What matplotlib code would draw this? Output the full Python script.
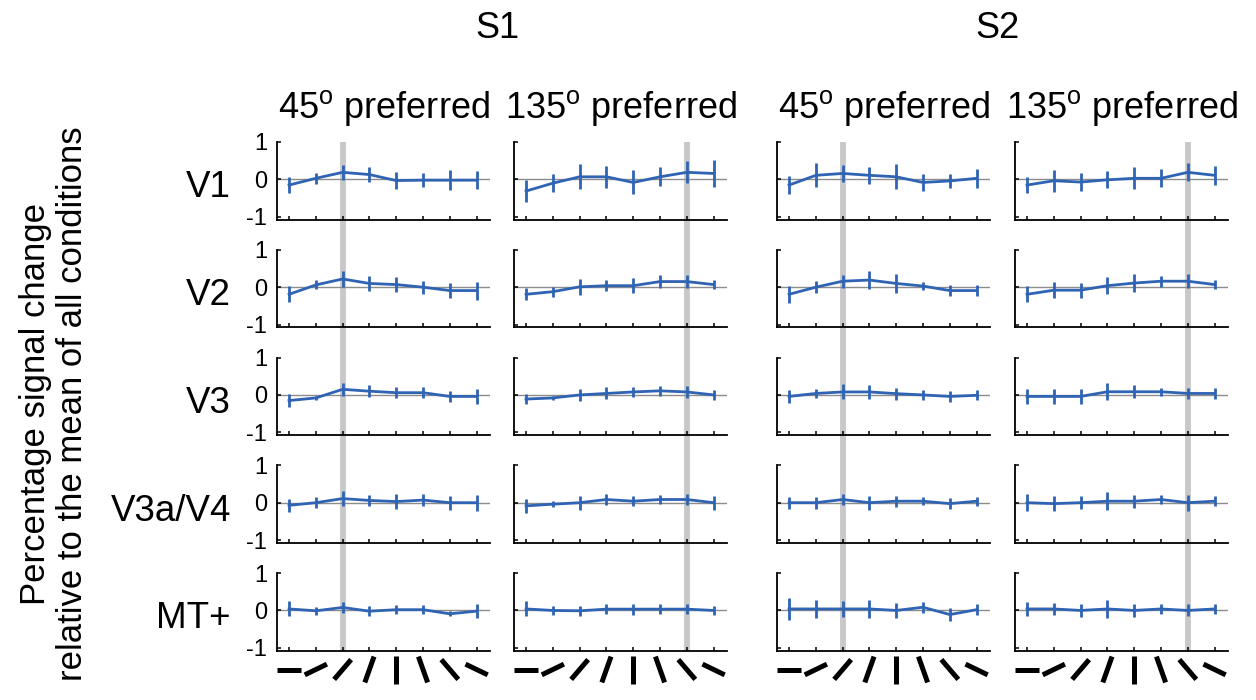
import numpy as np
import matplotlib
matplotlib.use('Agg')
import matplotlib.pyplot as plt
from matplotlib import transforms
from matplotlib.lines import Line2D

plt.rcParams['font.family'] = ['Liberation Sans', 'DejaVu Sans']
plt.rcParams['mathtext.fontset'] = 'custom'
plt.rcParams['mathtext.rm'] = 'Liberation Sans'
plt.rcParams['axes.unicode_minus'] = False

# --- data ---
subjects = ['S1', 'S2']
conditions = [r'45$^{\mathrm{o}}$ preferred', r'135$^{\mathrm{o}}$ preferred',
              r'45$^{\mathrm{o}}$ preferred', r'135$^{\mathrm{o}}$ preferred']
areas = ['V1', 'V2', 'V3', 'V3a/V4', 'MT+']
orientations = [0, 22.5, 45, 67.5, 90, 112.5, 135, 157.5]
preferred = [45, 135, 45, 135]
yticks = [-1, 0, 1]

s1_45_mean = [
    [-0.15, 0.03, 0.19, 0.13, -0.03, -0.02, -0.02, -0.02],
    [-0.19, 0.06, 0.22, 0.10, 0.07, 0.00, -0.09, -0.09],
    [-0.15, -0.08, 0.15, 0.10, 0.06, 0.06, -0.04, -0.04],
    [-0.07, 0.00, 0.11, 0.06, 0.03, 0.07, 0.00, 0.00],
    [0.04, -0.01, 0.08, -0.02, 0.02, 0.02, -0.09, -0.02],
]
s1_45_err = [
    [0.21, 0.15, 0.20, 0.20, 0.23, 0.19, 0.26, 0.24],
    [0.21, 0.12, 0.22, 0.19, 0.19, 0.17, 0.20, 0.24],
    [0.18, 0.06, 0.18, 0.16, 0.15, 0.15, 0.15, 0.19],
    [0.18, 0.14, 0.19, 0.14, 0.19, 0.15, 0.19, 0.21],
    [0.20, 0.11, 0.15, 0.13, 0.12, 0.12, 0.07, 0.19],
]
s1_135_mean = [
    [-0.31, -0.10, 0.07, 0.07, -0.08, 0.07, 0.19, 0.16],
    [-0.19, -0.12, 0.01, 0.04, 0.04, 0.15, 0.15, 0.07],
    [-0.11, -0.08, 0.00, 0.04, 0.08, 0.11, 0.08, 0.00],
    [-0.085, -0.04, 0.00, 0.085, 0.04, 0.085, 0.085, 0.00],
    [0.04, 0.00, -0.01, 0.035, 0.035, 0.035, 0.035, 0.00],
]
s1_135_err = [
    [0.29, 0.24, 0.33, 0.29, 0.32, 0.25, 0.29, 0.37],
    [0.16, 0.13, 0.22, 0.15, 0.20, 0.17, 0.17, 0.13],
    [0.14, 0.05, 0.17, 0.16, 0.14, 0.14, 0.15, 0.13],
    [0.18, 0.085, 0.19, 0.14, 0.14, 0.13, 0.16, 0.19],
    [0.20, 0.13, 0.14, 0.14, 0.15, 0.13, 0.14, 0.13],
]
s2_45_mean = [
    [-0.15, 0.11, 0.16, 0.11, 0.07, -0.08, -0.04, 0.03],
    [-0.19, 0.00, 0.16, 0.19, 0.10, 0.03, -0.09, -0.09],
    [-0.04, 0.04, 0.08, 0.08, 0.035, 0.00, -0.04, -0.01],
    [0.00, 0.00, 0.085, 0.00, 0.04, 0.04, -0.025, 0.04],
    [0.04, 0.04, 0.04, 0.04, 0.00, 0.085, -0.11, 0.02],
]
s2_45_err = [
    [0.25, 0.32, 0.23, 0.23, 0.33, 0.22, 0.19, 0.26],
    [0.23, 0.16, 0.17, 0.23, 0.25, 0.11, 0.15, 0.15],
    [0.18, 0.12, 0.20, 0.19, 0.16, 0.13, 0.15, 0.13],
    [0.16, 0.16, 0.15, 0.19, 0.15, 0.11, 0.14, 0.12],
    [0.29, 0.23, 0.22, 0.25, 0.21, 0.15, 0.18, 0.15],
]
s2_135_mean = [
    [-0.15, -0.035, -0.07, -0.01, 0.03, 0.03, 0.19, 0.11],
    [-0.19, -0.08, -0.08, 0.04, 0.11, 0.16, 0.16, 0.07],
    [-0.04, -0.04, -0.04, 0.085, 0.085, 0.085, 0.04, 0.04],
    [0.00, -0.025, 0.00, 0.04, 0.04, 0.085, 0.00, 0.04],
    [0.04, 0.04, 0.00, 0.04, 0.00, 0.04, 0.00, 0.04],
]
s2_135_err = [
    [0.22, 0.30, 0.24, 0.23, 0.29, 0.24, 0.24, 0.25],
    [0.21, 0.21, 0.20, 0.23, 0.23, 0.15, 0.18, 0.13],
    [0.21, 0.20, 0.19, 0.23, 0.17, 0.10, 0.15, 0.14],
    [0.23, 0.20, 0.18, 0.24, 0.17, 0.12, 0.21, 0.13],
    [0.19, 0.17, 0.17, 0.23, 0.18, 0.13, 0.16, 0.14],
]

means = [s1_45_mean, s1_135_mean, s2_45_mean, s2_135_mean]
errs = [s1_45_err, s1_135_err, s2_45_err, s2_135_err]

# --- layout (pixels of a 1256x700 figure) ---
W, H = 1256, 700
col_left = [277, 514, 777, 1015]
col_w = 213
row_top0, row_step, row_h = 142, 107.75, 77.5
blue = '#2f63b3'

fig = plt.figure(figsize=(W / 100, H / 100), dpi=100)
x = np.arange(1, len(orientations) + 1)
xlim = (0.55, 8.5)

def frac(left, top, w, h):
    return [left / W, 1 - (top + h) / H, w / W, h / H]

bottom_axes = []
for c in range(4):
    # grey band marking the preferred orientation, across all rows
    band_h = 4 * row_step + row_h
    bg = fig.add_axes(frac(col_left[c], row_top0, col_w, band_h), zorder=0)
    bg.set_xlim(*xlim)
    bg.axvline(orientations.index(preferred[c]) + 1, color='#c8c8c8', lw=4.2)
    bg.axis('off')

    for r in range(len(areas)):
        ax = fig.add_axes(frac(col_left[c], row_top0 + r * row_step, col_w, row_h), zorder=1)
        ax.patch.set_visible(False)
        ax.axhline(0, color='#8c8c8c', lw=1.0, zorder=1)
        ax.errorbar(x, means[c][r], yerr=errs[c][r], color=blue, lw=2.0,
                    elinewidth=2.0, capsize=0, zorder=3)
        ax.set_xlim(*xlim)
        ax.set_ylim(-1.07, 1.0)
        ax.set_xticks(x)
        ax.set_yticks(yticks)
        ax.spines['top'].set_visible(False)
        ax.spines['right'].set_visible(False)
        for s in ['left', 'bottom']:
            ax.spines[s].set_linewidth(1.3)
        ax.tick_params(direction='in', length=3, width=1.1, labelsize=17, pad=7,
                       labelbottom=False, labelleft=(c == 0))
        if r == 0:
            ax.set_title(conditions[c], fontsize=26, pad=17)
        if c == 0:
            ax.annotate(areas[r], xy=(0, 0), xycoords=('axes fraction', 'data'),
                        xytext=(-46 * 0.72, -18 * 0.72), textcoords='offset points',
                        ha='right', va='baseline', fontsize=26.5)
        if r == len(areas) - 1:
            bottom_axes.append(ax)

# orientation glyphs under the x ticks
half = 0.14
for ax in bottom_axes:
    blend = transforms.blended_transform_factory(ax.transData, ax.transAxes)
    for xi, ang in zip(x, orientations):
        t = np.deg2rad(ang)
        dx = 0.857 * half * np.cos(t)
        dy = half * np.sin(t)
        tr = fig.dpi_scale_trans + transforms.ScaledTranslation(xi, 0, blend)
        fig.add_artist(Line2D([-dx, dx], [-0.19 - dy, -0.19 + dy], transform=tr,
                              color='black', lw=3.6, solid_capstyle='butt'))

# subject headers
for i, s in enumerate(subjects):
    cx = (col_left[2 * i] + col_left[2 * i + 1] + col_w) / 2 - 5
    fig.text(cx / W, 1 - 38 / H, s, ha='center', va='baseline', fontsize=26)

fig.text(54 / W, 1 - 404 / H,
         'Percentage signal change\nrelative to the mean of all conditions',
         rotation=90, ha='center', va='center', fontsize=25, linespacing=1.15,
         multialignment='center')

fig.savefig('out.png', dpi=100)
